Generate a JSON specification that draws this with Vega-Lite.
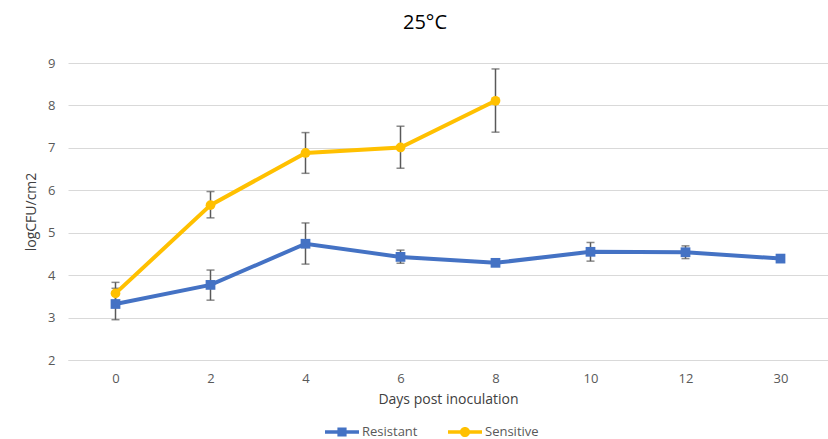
{
  "$schema": "https://vega.github.io/schema/vega-lite/v6.json",
  "width": 760,
  "height": 297,
  "autosize": {"type": "none"},
  "padding": {"left": 68, "top": 63, "right": 0, "bottom": 79},
  "background": "white",
  "config": {
    "font": "Open Sans",
    "view": {"stroke": null}
  },
  "title": {"text": "25°C", "fontSize": 20, "font": "Open Sans", "fontWeight": "normal", "color": "#000000", "anchor": "middle", "dx": -23, "offset": 24},
  "data": {
    "values": [
      {"series": "Resistant", "day": 0, "value": 3.32, "lo": 2.95, "hi": 3.69},
      {"series": "Resistant", "day": 2, "value": 3.77, "lo": 3.41, "hi": 4.12},
      {"series": "Resistant", "day": 4, "value": 4.74, "lo": 4.26, "hi": 5.23},
      {"series": "Resistant", "day": 6, "value": 4.43, "lo": 4.28, "hi": 4.59},
      {"series": "Resistant", "day": 8, "value": 4.29, "lo": null, "hi": null},
      {"series": "Resistant", "day": 10, "value": 4.55, "lo": 4.33, "hi": 4.77},
      {"series": "Resistant", "day": 12, "value": 4.54, "lo": 4.39, "hi": 4.69},
      {"series": "Resistant", "day": 30, "value": 4.39, "lo": null, "hi": null},
      {"series": "Sensitive", "day": 0, "value": 3.57, "lo": 3.31, "hi": 3.83},
      {"series": "Sensitive", "day": 2, "value": 5.65, "lo": 5.35, "hi": 5.97},
      {"series": "Sensitive", "day": 4, "value": 6.88, "lo": 6.4, "hi": 7.36},
      {"series": "Sensitive", "day": 6, "value": 7.01, "lo": 6.52, "hi": 7.51},
      {"series": "Sensitive", "day": 8, "value": 8.11, "lo": 7.37, "hi": 8.86}
    ]
  },
  "encoding": {
    "x": {
      "field": "day", "type": "ordinal",
      "scale": {"type": "point", "padding": 0.5},
      "axis": {
        "title": "Days post inoculation", "labelAngle": 0, "ticks": false,
        "domain": true, "domainColor": "#D9D9D9", "domainWidth": 1,
        "labelFontSize": 13, "labelColor": "#595959", "labelPadding": 12,
        "titleFontSize": 14, "titleFontWeight": "normal", "titleColor": "#404040", "titlePadding": 7
      }
    }
  },
  "layer": [
    {
      "transform": [{"filter": "isValid(datum.lo)"}],
      "mark": {"type": "rule", "color": "#595959", "strokeWidth": 1.5},
      "encoding": {
        "y": {"field": "lo", "type": "quantitative"},
        "y2": {"field": "hi"}
      }
    },
    {
      "transform": [{"filter": "isValid(datum.lo)"}],
      "mark": {"type": "tick", "color": "#595959", "size": 8, "thickness": 1.5, "orient": "horizontal"},
      "encoding": {"y": {"field": "lo", "type": "quantitative"}}
    },
    {
      "transform": [{"filter": "isValid(datum.lo)"}],
      "mark": {"type": "tick", "color": "#595959", "size": 8, "thickness": 1.5, "orient": "horizontal"},
      "encoding": {"y": {"field": "hi", "type": "quantitative"}}
    },
    {
      "mark": {"type": "line", "strokeWidth": 4},
      "encoding": {
        "y": {
          "field": "value", "type": "quantitative",
          "scale": {"domain": [2, 9], "nice": false, "zero": false},
          "axis": {
            "title": "logCFU/cm2", "values": [2, 3, 4, 5, 6, 7, 8, 9],
            "grid": true, "gridColor": "#D9D9D9", "domain": false, "ticks": false,
            "labelFontSize": 13, "labelColor": "#595959", "labelPadding": 13,
            "titleFontSize": 14, "titleFontWeight": "normal", "titleColor": "#404040", "titlePadding": 9
          }
        },
        "color": {
          "field": "series", "type": "nominal",
          "scale": {"domain": ["Resistant", "Sensitive"], "range": ["#4472C4", "#FFC000"]},
          "legend": {
            "title": null, "orient": "none", "direction": "horizontal",
            "legendX": 257, "legendY": 352,
            "symbolSize": 1156, "labelFontSize": 13, "labelColor": "#595959",
            "labelOffset": 3, "columnPadding": 30,
            "encode": {
              "symbols": {
                "update": {
                  "shape": {"signal": "datum.value === 'Resistant' ? 'M-1,-0.1H1V0.1H-1Z M-0.27,-0.27H0.27V0.27H-0.27Z' : 'M-1,-0.1H1V0.1H-1Z M0.3,0A0.3,0.3 0 1 1 -0.3,0A0.3,0.3 0 1 1 0.3,0Z'"},
                  "fill": {"signal": "datum.value === 'Resistant' ? '#4472C4' : '#FFC000'"},
                  "stroke": {"value": "transparent"},
                  "strokeWidth": {"value": 0},
                  "opacity": {"value": 1}
                }
              }
            }
          }
        }
      }
    },
    {
      "transform": [{"filter": "datum.series === 'Resistant'"}],
      "mark": {"type": "point", "filled": true, "opacity": 1, "size": 95, "shape": "square"},
      "encoding": {
        "y": {"field": "value", "type": "quantitative"},
        "color": {"field": "series", "type": "nominal"}
      }
    },
    {
      "transform": [{"filter": "datum.series === 'Sensitive'"}],
      "mark": {"type": "point", "filled": true, "opacity": 1, "size": 95, "shape": "circle"},
      "encoding": {
        "y": {"field": "value", "type": "quantitative"},
        "color": {"field": "series", "type": "nominal"}
      }
    }
  ]
}
